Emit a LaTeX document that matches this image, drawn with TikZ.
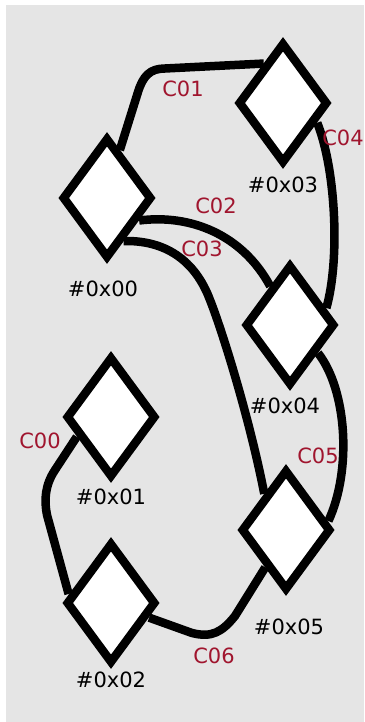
\documentclass[tikz,border=0pt]{standalone}
\usepackage{fontspec}
\setmainfont{DejaVu Sans}
\usetikzlibrary{shapes.geometric,backgrounds}
\definecolor{bggray}{RGB}{229,229,229}
\definecolor{lblred}{RGB}{160,21,46}
\tikzset{
  dev/.style={diamond,draw=black,fill=white,line width=8.5pt,minimum width=90pt,minimum height=121pt,inner sep=0pt},
  conn/.style={draw=black,line width=8.5pt},
  devlabel/.style={text=black,inner sep=0pt,font=\fontsize{21}{24}\selectfont},
  connlabel/.style={text=lblred,inner sep=0pt,font=\fontsize{21}{24}\selectfont}
}
\begin{document}
\begin{tikzpicture}[x=1pt,y=-1pt]
\useasboundingbox (0,0) rectangle (364,722);
% devices
\node[dev] (n03) at (283,103) {};
\node[dev] (n00) at (107,198) {};
\node[dev] (n04) at (290,325) {};
\node[dev] (n01) at (111,417) {};
\node[dev] (n05) at (286,530) {};
\node[dev] (n02) at (111,603) {};
% device labels
\node[devlabel] (t03) at (283,185) {\#0x03};
\node[devlabel] (t00) at (103,289) {\#0x00};
\node[devlabel] (t04) at (285,406) {\#0x04};
\node[devlabel] (t01) at (111,497) {\#0x01};
\node[devlabel] (t05) at (289,627) {\#0x05};
\node[devlabel] (t02) at (111,680) {\#0x02};
% connector labels
\node[connlabel] (l01) at (183,88.5) {C01};
\node[connlabel] (l04) at (343,137.5) {C04};
\node[connlabel] (l02) at (216,206) {C02};
\node[connlabel] (l03) at (202,248.5) {C03};
\node[connlabel] (l05) at (318,456) {C05};
\node[connlabel] (l00) at (40,441) {C00};
\node[connlabel] (l06) at (214,656) {C06};
\begin{pgfonlayer}{background}
\fill[bggray] (6,5) rectangle (364,722);
% C01
\draw[conn] (n00.75) -- (138,92) .. controls (143,76) and (150,68.5) .. (165,68.5) -- (n03.116);
% C04
\draw[conn] (n03.-30) .. controls (336,170) and (340,260) .. (n04.25);
% C02
\draw[conn] (n00.-35) .. controls (190,214) and (242,234) .. (n04.117);
% C03
\draw[conn] (n00.-69) .. controls (165,240) and (195,260) .. (210,300) .. controls (222,330) and (250,420) .. (n05.121);
% C05
\draw[conn] (n04.-45) .. controls (347,390) and (352,470) .. (n05.12);
% C00
\draw[conn] (n01.-150) -- (55,470) .. controls (45,485) and (44,500) .. (47,515) -- (n02.168);
% C06
\draw[conn] (n02.-21) -- (192,633) .. controls (212,638) and (222,632) .. (235,616) -- (n05.-119);
\end{pgfonlayer}
\end{tikzpicture}
\end{document}
